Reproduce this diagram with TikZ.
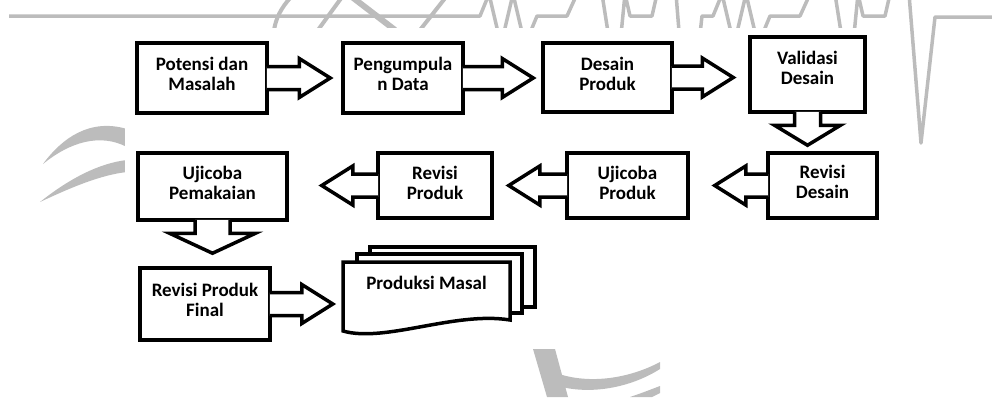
\documentclass[tikz,border=0pt]{standalone}
\usepackage{fontspec}
\setmainfont{Carlito}
\usetikzlibrary{calc}
\definecolor{wm}{RGB}{188,188,188}
\tikzset{
  box/.style={draw, line width=3.5pt, fill=white, rectangle, inner sep=0pt},
  lbl/.style={font=\bfseries\fontsize{19}{20}\selectfont, align=center, inner sep=0pt},
  arr/.style={draw, line width=3.5pt, fill=white, line join=miter, miter limit=10},
  docline/.style={draw, line width=3.5pt, fill=white, line join=miter},
  wmline/.style={draw=wm, line width=3.5pt, line join=round},
  wmfill/.style={fill=wm},
}
\newcommand{\rarr}[2]{%
  \path[arr] let \p1=(#1), \p2=(#2) in
   (\x1-1.8pt,\y1+11.5pt) -- (\x2-31pt,\y1+11.5pt) -- (\x2-31pt,\y1+19.5pt) -- (\x2,\y1)
   -- (\x2-31pt,\y1-19.5pt) -- (\x2-31pt,\y1-11.5pt) -- (\x1-1.8pt,\y1-11.5pt);}
\newcommand{\larr}[2]{%
  \path[arr] let \p1=(#1), \p2=(#2) in
   (\x1+1.8pt,\y1+11.5pt) -- (\x2+31pt,\y1+11.5pt) -- (\x2+31pt,\y1+19.5pt) -- (\x2,\y1)
   -- (\x2+31pt,\y1-19.5pt) -- (\x2+31pt,\y1-11.5pt) -- (\x1+1.8pt,\y1-11.5pt);}
\newcommand{\darr}[5]{%
  \path[arr] let \p1=(#1), \p2=(#2) in
   (\x1+#3pt,\y1+1.8pt) -- (\x1+#3pt,\y2+#5pt) -- (\x1+#4pt,\y2+#5pt) -- (\x1,\y2)
   -- (\x1-#4pt,\y2+#5pt) -- (\x1-#3pt,\y2+#5pt) -- (\x1-#3pt,\y1+1.8pt);}
\begin{document}
\begin{tikzpicture}[x=1pt,y=-1pt]
\useasboundingbox (0,0) rectangle (992,397);
\begin{scope}
\clip (0,0) rectangle (992,397);
% watermark
\draw[wmline] (9,16) -- (480,16) -- (489,-6) -- (501,45) -- (513,-6) -- (525,45) -- (537,16)
  -- (567,16) -- (577,-6) -- (602,-6) -- (610,45) -- (620,45) -- (625,-6) -- (630,16)
  -- (652,16) -- (657,-6) -- (676,-6) -- (688,143) -- (702,16) -- (713,16)
  -- (722,-6) -- (734,45) -- (746,-6) -- (758,45) -- (770,16) -- (800,16) -- (810,-6)
  -- (835,-6) -- (843,45) -- (853,45) -- (858,-6) -- (863,16) -- (885,16) -- (890,-6)
  -- (909,-6) -- (921,143) -- (935,17) -- (995,17);
\draw[wm, line width=4pt] (291,-3) .. controls (281,8) and (276,18) .. (274,30);
\draw[wm, line width=4pt] (318,30) -- (342,-3);
\draw[wm, line width=6pt] (352,-3) -- (395,30);
\draw[wm, line width=4pt] (420,30) -- (446,-3);
\fill[wmfill] (43,164) .. controls (62,138) and (90,118) .. (127,129) -- (127,147)
  .. controls (100,133) and (70,142) .. (43,164) -- cycle;
\fill[wmfill] (40,202) .. controls (70,178) and (100,163) .. (127,160) -- (127,172)
  .. controls (100,175) and (70,188) .. (40,202) -- cycle;
\fill[wmfill] (533,349) -- (555,349) -- (568,397) -- (547,397) -- cycle;
\fill[wmfill] (556,373) .. controls (590,385) and (630,378) .. (660,362) -- (660,369)
  .. controls (630,388) and (590,395) .. (558,386) -- cycle;
\fill[wmfill] (630,397) .. controls (642,393) and (652,389) .. (660,386) -- (660,393)
  -- (652,397) -- cycle;
\fill[white] (125,28) rectangle (905,349);
\end{scope}
% boxes
\node[box, minimum width=130pt, minimum height=70pt] (b1) at (202,78) {};
\node[lbl] (t1) at ([yshift=4pt]b1.center) {Potensi dan\\Masalah};
\node[box, minimum width=120pt, minimum height=70pt] (b2) at (403,78) {};
\node[lbl] (t2) at ([yshift=4pt]b2.center) {Pengumpula\\n Data};
\node[box, minimum width=129pt, minimum height=69pt] (b3) at (607.5,77.5) {};
\node[lbl] (t3) at ([yshift=4pt]b3.center) {Desain\\Produk};
\node[box, minimum width=115pt, minimum height=75pt] (b4) at (807.5,74.5) {};
\node[lbl] (t4) at ([yshift=6.5pt]b4.center) {Validasi\\Desain};
\node[box, minimum width=109pt, minimum height=65pt] (b5) at (822.5,185.5) {};
\node[lbl] (t5) at ([yshift=3.5pt]b5.center) {Revisi\\Desain};
\node[box, minimum width=121pt, minimum height=65pt] (b6) at (627.5,185.5) {};
\node[lbl] (t6) at ([yshift=2.5pt]b6.center) {Ujicoba\\Produk};
\node[box, minimum width=114pt, minimum height=65pt] (b7) at (435,185.5) {};
\node[lbl] (t7) at ([yshift=2.5pt]b7.center) {Revisi\\Produk};
\node[box, minimum width=149pt, minimum height=67pt] (b8) at (212.5,186.5) {};
\node[lbl] (t8) at ([yshift=3.5pt]b8.center) {Ujicoba\\Pemakaian};
\node[box, minimum width=130pt, minimum height=72pt] (b9) at (205,304) {};
\node[lbl] (t9) at ([yshift=4pt]b9.center) {Revisi Produk\\Final};
% multi-document
\node[minimum width=167pt, minimum height=71pt, inner sep=0pt] (doc) at (426.5,297.5) {};
\path[docline] (370,247) rectangle (535,307);
\path[docline] (357,254) rectangle (522,313);
\path[docline] (343,262) -- (510,262) -- (510,320) .. controls (455,311) and (385,343) .. (343,331) -- cycle;
\node[lbl] (t10) at ([yshift=-21pt]doc.north) {Produksi Masal};
% block arrows
\rarr{b1.east}{$(b2.west)+(-11,0)$}
\rarr{b2.east}{$(b3.west)+(-8,0)$}
\rarr{b3.east}{$(b4.west)+(-15,0)$}
\darr{b4.south}{$(b4.south |- b5.north)+(0,-6)$}{13}{33}{20}
\larr{b5.west}{$(b6.east)+(25,0)$}
\larr{b6.west}{$(b7.east)+(15,0)$}
\larr{b7.west}{$(b8.east)+(33,0)$}
\darr{b8.south}{$(b8.south |- b9.north)+(0,-13)$}{17.5}{43}{20}
\rarr{b9.east}{$(doc.west)+(-10,0)$}
\end{tikzpicture}
\end{document}
